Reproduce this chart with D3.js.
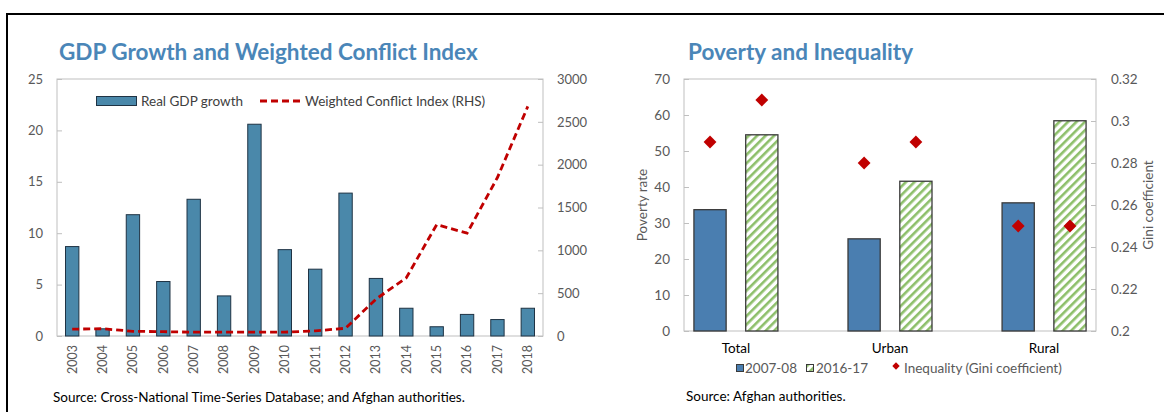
<!DOCTYPE html>
<head>
<meta charset="utf-8">
<style>
  body { margin:0; background:#fff; }
  text { font-family: Lato, "Noto Sans", sans-serif; }
  .tick text { fill:#595959; font-size:13px; }
  .title { fill:#4a86b8; font-size:22.5px; font-weight:bold; }
  .src { fill:#000; font-size:13.5px; }
  .frame { stroke:#bfbfbf; fill:none; }
</style>
</head>
<body>
<script src="https://cdn.jsdelivr.net/npm/d3@7"></script>
<script>

var width = 1164, height = 412;

// left panel data
var years = ["2003","2004","2005","2006","2007","2008","2009","2010","2011","2012","2013","2014","2015","2016","2017","2018"];
var gdpGrowth = [8.7, 0.7, 11.8, 5.3, 13.3, 3.9, 20.6, 8.4, 6.5, 13.9, 5.6, 2.7, 0.9, 2.1, 1.6, 2.7];
var conflictIndex = [80, 85, 55, 50, 45, 45, 45, 45, 60, 90, 430, 680, 1300, 1200, 1850, 2680];
var gdpTicks = [0, 5, 10, 15, 20, 25];
var conflictTicks = [0, 500, 1000, 1500, 2000, 2500, 3000];

// right panel data
var areas = ["Total", "Urban", "Rural"];
var periods = ["2007-08", "2016-17"];
var poverty0708 = [33.7, 25.6, 35.6];
var poverty1617 = [54.5, 41.6, 58.4];
var gini0708 = [0.29, 0.28, 0.25];
var gini1617 = [0.31, 0.29, 0.25];
var povTicks = [0, 10, 20, 30, 40, 50, 60, 70];
var giniTicks = [0.2, 0.22, 0.24, 0.26, 0.28, 0.3, 0.32];

var svg = d3.select("body").append("svg")
    .attr("width", width)
    .attr("height", height);

var defs = svg.append("defs");
var hatch = defs.append("pattern")
    .attr("id", "hatch")
    .attr("patternUnits", "userSpaceOnUse")
    .attr("width", 6).attr("height", 6)
    .attr("patternTransform", "rotate(45)");
hatch.append("rect").attr("width", 6).attr("height", 6).attr("fill", "#fff");
hatch.append("rect").attr("width", 2.6).attr("height", 6).attr("fill", "#8dbf6a");

// outer frame
svg.append("line").attr("x1", 6).attr("x2", width).attr("y1", 14).attr("y2", 14)
   .attr("stroke", "#000").attr("stroke-width", 2);
svg.append("line").attr("x1", 7).attr("x2", 7).attr("y1", 14).attr("y2", height)
   .attr("stroke", "#000").attr("stroke-width", 2);

// ---------- left panel ----------
var L = {left:57, right:543, top:79, bottom:336};

var x = d3.scaleBand().domain(years).range([L.left, L.right]).paddingInner(0.56).paddingOuter(0.28);
var yL = d3.scaleLinear().domain([0, 25]).range([L.bottom, L.top]);
var yR = d3.scaleLinear().domain([0, 3000]).range([L.bottom, L.top]);

var g1 = svg.append("g");
g1.append("rect").attr("class", "frame")
  .attr("x", L.left).attr("y", L.top)
  .attr("width", L.right - L.left).attr("height", L.bottom - L.top);

g1.append("g")
  .attr("transform", "translate(" + L.left + ",0)")
  .call(d3.axisRight(yL).tickValues(gdpTicks).tickSize(5).tickFormat(d3.format("d")))
  .call(function(g) {
    g.select(".domain").remove();
    g.selectAll("line").attr("stroke", "#bfbfbf");
    g.selectAll("text").attr("x", -14).attr("text-anchor", "end");
  });

g1.append("g")
  .attr("transform", "translate(" + L.right + ",0)")
  .call(d3.axisLeft(yR).tickValues(conflictTicks).tickSize(5).tickFormat(d3.format("d")))
  .call(function(g) {
    g.select(".domain").remove();
    g.selectAll("line").attr("stroke", "#bfbfbf");
    g.selectAll("text").attr("x", 14).attr("text-anchor", "start");
  });

g1.selectAll(".bar")
  .data(gdpGrowth).enter()
  .append("rect")
  .attr("class", "bar")
  .attr("x", function(d, i) { return x(years[i]); })
  .attr("width", x.bandwidth())
  .attr("y", function(d) { return yL(d); })
  .attr("height", function(d) { return yL(0) - yL(d); })
  .attr("fill", "#4a88aa")
  .attr("stroke", "#1f3344")
  .attr("stroke-width", 1);

var line = d3.line()
  .x(function(d, i) { return x(years[i]) + x.bandwidth() / 2; })
  .y(function(d) { return yR(d); });

g1.append("path")
  .datum(conflictIndex)
  .attr("d", line)
  .attr("fill", "none")
  .attr("stroke", "#c00000")
  .attr("stroke-width", 2.8)
  .attr("stroke-dasharray", "7,4");

g1.selectAll(".xlab")
  .data(years).enter()
  .append("text")
  .attr("class", "xlab")
  .attr("transform", function(d) { return "translate(" + (x(d) + x.bandwidth() / 2) + ",345) rotate(-90)"; })
  .attr("dy", "0.35em")
  .attr("text-anchor", "end")
  .attr("fill", "#595959")
  .style("font-size", "12.5px")
  .text(function(d) { return d; });

// legend
var lg1 = g1.append("g").style("font-size", "13.5px");
lg1.append("rect").attr("x", 96.5).attr("y", 96.5).attr("width", 40).attr("height", 9)
   .attr("fill", "#4a88aa").attr("stroke", "#1f3344");
lg1.append("text").attr("x", 141).attr("y", 101).attr("dy", "0.35em")
   .attr("fill", "#404040").text("Real GDP growth");
lg1.append("line").attr("x1", 260).attr("x2", 302).attr("y1", 101).attr("y2", 101)
   .attr("stroke", "#c00000").attr("stroke-width", 2.8).attr("stroke-dasharray", "7,4");
lg1.append("text").attr("x", 305).attr("y", 101).attr("dy", "0.35em")
   .attr("fill", "#404040").text("Weighted Conflict Index (RHS)");

svg.append("text").attr("class", "title").attr("x", 59).attr("y", 60)
   .text("GDP Growth and Weighted Conflict Index");
svg.append("text").attr("class", "src").attr("x", 53).attr("y", 402)
   .text("Source: Cross-National Time-Series Database; and Afghan authorities.");

// ---------- right panel ----------
var R = {left:684, right:1096, top:79, bottom:331};

var xg = d3.scalePoint().domain(areas).range([R.left, R.right]).padding(0.337);
var xs = d3.scaleBand().domain(periods).range([-42, 42]).paddingInner(0.378);
var yP = d3.scaleLinear().domain([0, 70]).range([R.bottom, R.top]);
var yG = d3.scaleLinear().domain([0.2, 0.32]).range([R.bottom, R.top]);

var g2 = svg.append("g");
g2.append("rect").attr("class", "frame")
  .attr("x", R.left).attr("y", R.top)
  .attr("width", R.right - R.left).attr("height", R.bottom - R.top);

g2.append("g")
  .attr("transform", "translate(" + R.left + ",0)")
  .call(d3.axisRight(yP).tickValues(povTicks).tickSize(5).tickFormat(d3.format("d")))
  .call(function(g) {
    g.select(".domain").remove();
    g.selectAll("line").attr("stroke", "#bfbfbf");
    g.selectAll("text").attr("x", -14).attr("text-anchor", "end").style("font-size", "13.5px");
  });

g2.append("g")
  .attr("transform", "translate(" + R.right + ",0)")
  .call(d3.axisLeft(yG).tickValues(giniTicks).tickSize(5).tickFormat(function(d) { return d3.format("")(+d.toFixed(2)); }))
  .call(function(g) {
    g.select(".domain").remove();
    g.selectAll("line").attr("stroke", "#bfbfbf");
    g.selectAll("text").attr("x", 15).attr("text-anchor", "start").style("font-size", "13.5px");
  });

var series = [
  {name: periods[0], pov: poverty0708, gini: gini0708, fill: "#4a7eb0"},
  {name: periods[1], pov: poverty1617, gini: gini1617, fill: "url(#hatch)"}
];

series.forEach(function(s) {
  g2.selectAll(null)
    .data(s.pov).enter()
    .append("rect")
    .attr("x", function(d, i) { return xg(areas[i]) + xs(s.name); })
    .attr("width", xs.bandwidth())
    .attr("y", function(d) { return yP(d); })
    .attr("height", function(d) { return yP(0) - yP(d); })
    .attr("fill", s.fill)
    .attr("stroke", "#3a3a3a")
    .attr("stroke-width", 1.3);
});

var diamond = d3.symbol().type(d3.symbolDiamond2).size(105);
series.forEach(function(s) {
  g2.selectAll(null)
    .data(s.gini).enter()
    .append("path")
    .attr("d", diamond)
    .attr("transform", function(d, i) {
      return "translate(" + (xg(areas[i]) + xs(s.name) + xs.bandwidth() / 2) + "," + yG(d) + ")";
    })
    .attr("fill", "#c00000");
});

g2.selectAll(".cat")
  .data(areas).enter()
  .append("text")
  .attr("x", function(d) { return xg(d); })
  .attr("y", 353)
  .attr("text-anchor", "middle")
  .attr("fill", "#000")
  .style("font-size", "13.5px")
  .text(function(d) { return d; });

g2.append("text")
  .attr("transform", "translate(647," + ((R.top + R.bottom) / 2) + ") rotate(-90)")
  .attr("text-anchor", "middle")
  .attr("fill", "#595959")
  .style("font-size", "13.5px")
  .text("Poverty rate");
g2.append("text")
  .attr("transform", "translate(1153," + ((R.top + R.bottom) / 2) + ") rotate(-90)")
  .attr("text-anchor", "middle")
  .attr("fill", "#595959")
  .style("font-size", "13.5px")
  .text("Gini coefficient");

// legend
var lg2 = g2.append("g").style("font-size", "13.5px");
lg2.append("rect").attr("x", 736.5).attr("y", 364.5).attr("width", 7).attr("height", 7)
   .attr("fill", "#4a7eb0").attr("stroke", "#3a3a3a");
lg2.append("text").attr("x", 745).attr("y", 368).attr("dy", "0.35em").attr("fill", "#595959").text(periods[0]);
lg2.append("rect").attr("x", 806.5).attr("y", 364.5).attr("width", 7).attr("height", 7)
   .attr("fill", "url(#hatch)").attr("stroke", "#3a3a3a");
lg2.append("text").attr("x", 816).attr("y", 368).attr("dy", "0.35em").attr("fill", "#595959").text(periods[1]);
lg2.append("path").attr("d", d3.symbol().type(d3.symbolDiamond2).size(35))
   .attr("transform", "translate(896,366)").attr("fill", "#c00000");
lg2.append("text").attr("x", 904).attr("y", 368).attr("dy", "0.35em").attr("fill", "#595959")
   .text("Inequality (Gini coefficient)");

svg.append("text").attr("class", "title").attr("x", 688).attr("y", 60)
   .text("Poverty and Inequality");
svg.append("text").attr("class", "src").attr("x", 686).attr("y", 401)
   .text("Source: Afghan authorities.");

</script>
</body>
